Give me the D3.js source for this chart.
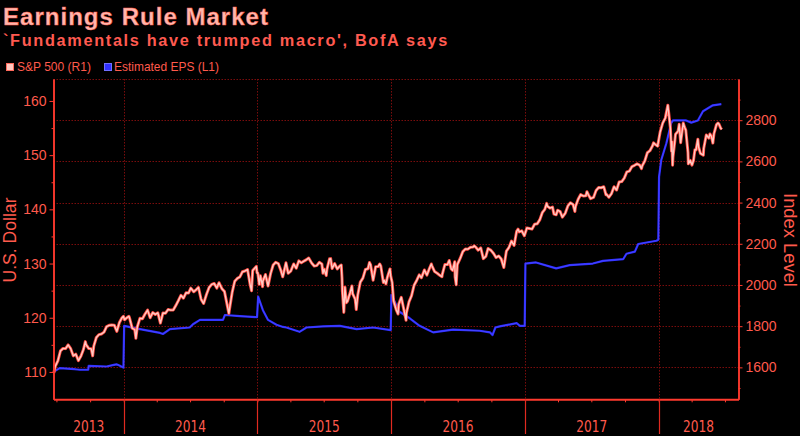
<!DOCTYPE html>
<html><head><meta charset="utf-8">
<script src="https://cdn.jsdelivr.net/npm/d3@7"></script>
<style>
html,body{margin:0;padding:0;background:#000;}
svg{display:block;}
</style></head>
<body>
<svg id="c" width="800" height="436"></svg>
<script>
const title = "Earnings Rule Market";
const subtitle = "`Fundamentals have trumped macro', BofA says";
const seriesNames = ["S&P 500 (R1)", "Estimated EPS (L1)"];
const leftTicks = [110, 120, 130, 140, 150, 160];
const leftMinor = [115, 125, 135, 145, 155];
const rightTicks = [1600, 1800, 2000, 2200, 2400, 2600, 2800];
const rightMinor = [1500, 1700, 1900, 2100, 2300, 2500, 2700, 2900];
const yearLabels = ["2013", "2014", "2015", "2016", "2017", "2018"];

// S&P 500 index level (right axis)
const sp500 = [
["2013-06-24",1573],["2013-06-28",1606],["2013-07-05",1632],["2013-07-12",1680],["2013-07-19",1692],["2013-07-26",1691],
["2013-08-02",1709],["2013-08-09",1691],["2013-08-16",1656],["2013-08-23",1664],["2013-08-30",1633],["2013-09-06",1655],
["2013-09-13",1688],["2013-09-18",1725],["2013-09-20",1710],["2013-09-27",1692],["2013-10-04",1690],["2013-10-08",1656],
["2013-10-11",1703],["2013-10-18",1745],["2013-10-25",1759],["2013-11-01",1762],["2013-11-08",1771],["2013-11-15",1798],
["2013-11-22",1804],["2013-11-29",1806],["2013-12-06",1805],["2013-12-13",1775],["2013-12-20",1818],["2013-12-27",1841],
["2013-12-31",1848],
["2014-01-03",1831],["2014-01-10",1842],["2014-01-15",1848],["2014-01-17",1838],["2014-01-24",1790],["2014-01-31",1783],
["2014-02-03",1741],["2014-02-07",1797],["2014-02-14",1838],["2014-02-21",1836],["2014-02-28",1859],["2014-03-07",1878],
["2014-03-14",1841],["2014-03-21",1866],["2014-03-28",1857],["2014-04-04",1865],["2014-04-11",1815],["2014-04-18",1864],
["2014-04-25",1863],["2014-05-02",1881],["2014-05-09",1878],["2014-05-16",1878],["2014-05-23",1900],["2014-05-30",1924],
["2014-06-06",1950],["2014-06-13",1936],["2014-06-20",1962],["2014-06-27",1961],["2014-07-03",1985],["2014-07-11",1967],
["2014-07-18",1978],["2014-07-24",1988],["2014-07-31",1931],["2014-08-07",1910],["2014-08-15",1955],["2014-08-22",1988],
["2014-08-29",2003],["2014-09-05",2007],["2014-09-12",1985],["2014-09-18",2011],["2014-09-26",1982],["2014-10-03",1968],
["2014-10-10",1906],["2014-10-15",1862],["2014-10-17",1886],["2014-10-24",1964],["2014-10-31",2018],["2014-11-07",2032],
["2014-11-14",2039],["2014-11-21",2064],["2014-11-28",2068],["2014-12-05",2075],["2014-12-12",2002],["2014-12-16",1972],
["2014-12-19",2070],["2014-12-29",2090],["2014-12-31",2059],
["2015-01-02",2058],["2015-01-06",2003],["2015-01-09",2045],["2015-01-15",1992],["2015-01-16",2019],["2015-01-23",2051],
["2015-01-30",1995],["2015-02-06",2055],["2015-02-13",2097],["2015-02-20",2110],["2015-02-27",2104],["2015-03-06",2071],
["2015-03-11",2040],["2015-03-13",2053],["2015-03-20",2108],["2015-03-26",2057],["2015-04-02",2067],["2015-04-10",2102],
["2015-04-17",2081],["2015-04-24",2117],["2015-05-01",2108],["2015-05-08",2116],["2015-05-15",2123],["2015-05-21",2131],
["2015-05-29",2107],["2015-06-05",2092],["2015-06-12",2094],["2015-06-19",2110],["2015-06-26",2102],["2015-06-29",2057],
["2015-07-02",2077],["2015-07-08",2046],["2015-07-10",2077],["2015-07-17",2127],["2015-07-20",2128],["2015-07-24",2080],
["2015-07-31",2104],["2015-08-07",2078],["2015-08-14",2092],["2015-08-18",2097],["2015-08-20",2035],["2015-08-21",1971],
["2015-08-25",1867],["2015-08-28",1989],["2015-09-01",1914],["2015-09-04",1921],["2015-09-11",1961],["2015-09-16",1995],
["2015-09-18",1958],["2015-09-25",1931],["2015-09-28",1881],["2015-10-02",1951],["2015-10-09",2014],["2015-10-16",2033],
["2015-10-23",2075],["2015-10-30",2079],["2015-11-03",2109],["2015-11-06",2099],["2015-11-13",2023],["2015-11-20",2089],
["2015-11-27",2090],["2015-12-01",2102],["2015-12-04",2092],["2015-12-11",2012],["2015-12-14",2022],["2015-12-18",2005],
["2015-12-22",2038],["2015-12-29",2078],["2015-12-31",2044],
["2016-01-04",2012],["2016-01-08",1922],["2016-01-15",1880],["2016-01-20",1859],["2016-01-22",1907],["2016-01-29",1940],
["2016-02-05",1880],["2016-02-11",1829],["2016-02-12",1865],["2016-02-19",1918],["2016-02-26",1948],["2016-03-04",1999],
["2016-03-11",2022],["2016-03-18",2049],["2016-03-24",2035],["2016-04-01",2073],["2016-04-08",2048],["2016-04-15",2081],
["2016-04-20",2102],["2016-04-22",2092],["2016-04-29",2065],["2016-05-06",2057],["2016-05-13",2047],["2016-05-19",2040],
["2016-05-20",2052],["2016-05-27",2099],["2016-06-03",2099],["2016-06-08",2119],["2016-06-13",2079],["2016-06-17",2071],
["2016-06-23",2113],["2016-06-24",2038],["2016-06-27",2001],["2016-06-30",2099],["2016-07-08",2130],["2016-07-15",2162],
["2016-07-22",2175],["2016-07-29",2174],["2016-08-05",2183],["2016-08-12",2184],["2016-08-15",2190],["2016-08-19",2184],
["2016-08-26",2169],["2016-09-02",2180],["2016-09-09",2128],["2016-09-16",2139],["2016-09-22",2177],["2016-09-30",2168],
["2016-10-07",2153],["2016-10-14",2133],["2016-10-21",2141],["2016-10-28",2126],["2016-11-04",2085],["2016-11-11",2164],
["2016-11-18",2182],["2016-11-25",2213],["2016-12-02",2192],["2016-12-09",2260],["2016-12-13",2271],["2016-12-16",2258],
["2016-12-23",2263],["2016-12-30",2239],
["2017-01-06",2277],["2017-01-13",2274],["2017-01-20",2271],["2017-01-27",2295],["2017-02-03",2297],["2017-02-10",2316],
["2017-02-17",2351],["2017-02-24",2367],["2017-03-01",2396],["2017-03-03",2383],["2017-03-10",2373],["2017-03-17",2378],
["2017-03-21",2344],["2017-03-27",2341],["2017-03-31",2363],["2017-04-07",2356],["2017-04-13",2329],["2017-04-21",2349],
["2017-04-28",2384],["2017-05-05",2399],["2017-05-12",2391],["2017-05-17",2357],["2017-05-19",2382],["2017-05-26",2416],
["2017-06-02",2439],["2017-06-09",2432],["2017-06-16",2433],["2017-06-19",2453],["2017-06-23",2438],["2017-06-29",2419],
["2017-07-07",2425],["2017-07-14",2459],["2017-07-21",2473],["2017-07-28",2472],["2017-08-04",2477],["2017-08-10",2438],
["2017-08-11",2441],["2017-08-18",2426],["2017-08-25",2443],["2017-09-01",2477],["2017-09-08",2461],["2017-09-15",2500],
["2017-09-22",2502],["2017-09-29",2519],["2017-10-06",2549],["2017-10-13",2553],["2017-10-20",2575],["2017-10-27",2581],
["2017-11-03",2588],["2017-11-10",2582],["2017-11-15",2565],["2017-11-17",2579],["2017-11-24",2602],["2017-12-01",2642],
["2017-12-08",2652],["2017-12-15",2675],["2017-12-18",2690],["2017-12-22",2683],["2017-12-29",2674],
["2018-01-05",2743],["2018-01-12",2786],["2018-01-19",2810],["2018-01-26",2873],["2018-02-02",2762],["2018-02-05",2649],
["2018-02-06",2695],["2018-02-08",2581],["2018-02-09",2620],["2018-02-14",2698],["2018-02-16",2732],["2018-02-23",2747],
["2018-02-26",2780],["2018-03-02",2691],["2018-03-09",2786],["2018-03-13",2765],["2018-03-16",2752],["2018-03-22",2644],
["2018-03-23",2588],["2018-03-28",2605],["2018-04-02",2582],["2018-04-06",2604],["2018-04-10",2657],["2018-04-13",2656],
["2018-04-18",2708],["2018-04-20",2670],["2018-04-25",2639],["2018-05-03",2630],["2018-05-04",2663],["2018-05-11",2728],
["2018-05-18",2713],["2018-05-21",2733],["2018-05-25",2721],["2018-05-29",2689],["2018-06-01",2735],["2018-06-08",2779],
["2018-06-12",2786],["2018-06-15",2780],["2018-06-19",2763],["2018-06-22",2755]
];

// Estimated EPS in U.S. dollars (left axis)
const eps = [
["2013-06-23",110.0],["2013-07-10",110.7],["2013-08-20",110.5],["2013-09-03",110.4],["2013-09-26",110.4],["2013-09-27",111.1],
["2013-11-15",111.0],["2013-12-05",111.3],["2013-12-12",111.4],["2013-12-20",111.2],["2013-12-31",110.8],
["2014-01-02",118.5],["2014-02-14",117.9],["2014-04-10",117.2],["2014-04-18",117.0],["2014-05-07",117.9],["2014-06-30",118.2],
["2014-07-09",118.8],["2014-07-28",119.6],["2014-09-29",119.6],["2014-10-04",120.5],["2014-11-14",120.3],["2014-12-31",120.1],
["2015-01-03",123.9],["2015-01-16",121.4],["2015-01-30",119.6],["2015-02-22",118.7],["2015-03-12",118.3],["2015-03-21",118.2],
["2015-04-26",117.4],["2015-05-15",118.2],["2015-06-29",118.4],["2015-08-14",118.5],["2015-09-29",117.9],["2015-11-13",118.2],
["2015-12-31",117.7],
["2016-01-02",124.2],["2016-01-24",121.1],["2016-02-21",119.9],["2016-03-19",118.5],["2016-04-25",117.3],["2016-06-18",117.8],
["2016-08-30",117.6],["2016-09-27",117.3],["2016-10-04",116.8],["2016-10-12",118.2],["2016-10-24",118.4],["2016-12-09",119.0],
["2016-12-18",118.5],["2016-12-31",118.5],
["2017-01-02",130.0],["2017-01-31",130.2],["2017-03-27",129.1],["2017-05-03",129.7],["2017-07-05",130.0],["2017-08-02",130.5],
["2017-09-26",130.8],["2017-10-05",131.8],["2017-10-28",132.2],["2017-11-06",133.6],["2017-12-26",134.2],["2017-12-31",134.4],
["2018-01-02",146.0],["2018-01-08",149.1],["2018-01-22",152.2],["2018-02-04",155.9],["2018-02-09",156.4],["2018-03-17",156.4],
["2018-03-31",156.0],["2018-04-18",156.4],["2018-05-02",158.1],["2018-05-29",159.2],["2018-06-21",159.4]
];

const parse = d3.utcParse("%Y-%m-%d");
const svg = d3.select("#c");
const W = 800, H = 436;
const L = 53.5, R = 738.5, T = 79, B = 399.3;
const RED = "#ff3a2e", TXT = "#ff5a4c", GRID = "#7a0c0c", PINK = "#ffb6ac";
const FONT = "Liberation Sans, Arial, sans-serif";

svg.append("rect").attr("width", W).attr("height", H).attr("fill", "#000");

const x = d3.scaleTime()
  .domain([parse("2013-06-23"), parse("2018-08-07")])
  .range([L, R]);
const yL = d3.scaleLinear().domain([104.95, 164.05]).range([B, T]);
const yR = d3.scaleLinear().domain([1445, 3000]).range([B, T]);

// ---- grid ----
const grid = svg.append("g").attr("stroke", GRID).attr("stroke-width", 1).attr("stroke-dasharray", "1.5,1.5");
grid.selectAll("line.h").data(rightTicks).join("line")
  .attr("x1", L).attr("x2", R)
  .attr("y1", d => Math.round(yR(d)) + 0.5).attr("y2", d => Math.round(yR(d)) + 0.5);
grid.append("line").attr("x1", L).attr("x2", R).attr("y1", T + 0.5).attr("y2", T + 0.5);
const yearStarts = yearLabels.slice(1).map(y => parse(y + "-01-01"));
grid.selectAll("line.v").data(yearStarts).join("line")
  .attr("x1", d => Math.round(x(d)) + 0.5).attr("x2", d => Math.round(x(d)) + 0.5)
  .attr("y1", T).attr("y2", B);

// ---- series ----
const lineEps = d3.line().x(d => x(parse(d[0]))).y(d => yL(d[1]));
const lineSp = d3.line().x(d => x(parse(d[0]))).y(d => yR(d[1]));

svg.append("path").datum(eps).attr("d", lineEps)
  .attr("fill", "none").attr("stroke", "#2a2aff").attr("stroke-width", 2.2).attr("stroke-linejoin", "round");
svg.append("path").datum(eps).attr("d", lineEps)
  .attr("fill", "none").attr("stroke", "#4a4aff").attr("stroke-width", 0.8).attr("stroke-linejoin", "round");

svg.append("path").datum(sp500).attr("d", lineSp)
  .attr("fill", "none").attr("stroke", "#ff4a40").attr("stroke-width", 3).attr("stroke-linejoin", "round");
svg.append("path").datum(sp500).attr("d", lineSp)
  .attr("fill", "none").attr("stroke", "#ffcbc4").attr("stroke-width", 1.4).attr("stroke-linejoin", "round");

// ---- axes ----
function styleAxis(g) {
  g.selectAll("path.domain").attr("stroke", RED).attr("stroke-width", 1.5);
  g.selectAll(".tick line").attr("stroke", RED).attr("stroke-width", 1);
  g.selectAll(".tick text").attr("fill", TXT).attr("font-family", FONT).attr("font-size", 14);
}
// left
svg.append("g").attr("transform", `translate(${L},0)`)
  .call(d3.axisLeft(yL).tickValues(leftTicks).tickSize(4).tickSizeOuter(0).tickPadding(3).tickFormat(d3.format("d")))
  .call(styleAxis);
svg.append("g").attr("transform", `translate(${L},0)`)
  .call(d3.axisLeft(yL).tickValues(leftMinor).tickSize(2).tickSizeOuter(0).tickFormat(""))
  .call(styleAxis);
// right
svg.append("g").attr("transform", `translate(${R},0)`)
  .call(d3.axisRight(yR).tickValues(rightTicks).tickSize(4).tickSizeOuter(0).tickPadding(3).tickFormat(d3.format("d")))
  .call(styleAxis);
svg.append("g").attr("transform", `translate(${R},0)`)
  .call(d3.axisRight(yR).tickValues(rightMinor).tickSize(2).tickSizeOuter(0).tickFormat(""))
  .call(styleAxis);
// bottom
const quarters = d3.utcMonth.every(3).range(x.domain()[0], x.domain()[1]);
const gB = svg.append("g").attr("transform", `translate(0,${B})`)
  .call(d3.axisBottom(x).tickValues(quarters).tickSize(3).tickSizeOuter(0).tickFormat(""))
  .call(styleAxis);
gB.select("path.domain").attr("stroke-width", 2);
// year separators
svg.append("g").selectAll("line").data(yearStarts).join("line")
  .attr("x1", d => Math.round(x(d)) + 0.5).attr("x2", d => Math.round(x(d)) + 0.5)
  .attr("y1", B).attr("y2", 434).attr("stroke", "#e02a20").attr("stroke-width", 1.2);
// year labels
const bounds = [x.domain()[0], ...yearStarts, x.domain()[1]];
svg.append("g").selectAll("text").data(yearLabels).join("text")
  .attr("x", (d, i) => (x(bounds[i]) + x(bounds[i + 1])) / 2)
  .attr("y", 431.5)
  .attr("text-anchor", "middle")
  .attr("fill", TXT)
  .attr("font-family", "Liberation Sans Narrow, DejaVu Sans Condensed, Liberation Sans, sans-serif")
  .attr("font-size", 16.5)
  .attr("textLength", 31).attr("lengthAdjust", "spacingAndGlyphs")
  .text(d => d);

// ---- texts ----
function fit(sel, w) {
  const cur = sel.node().getComputedTextLength();
  const fs = parseFloat(sel.attr("font-size"));
  sel.attr("font-size", (fs * w / cur).toFixed(2));
  return sel;
}
function fitSpacing(sel, w) {
  const cur = sel.node().getComputedTextLength();
  const n = sel.text().length;
  sel.attr("letter-spacing", ((w - cur) / n).toFixed(3));
  return sel;
}
fitSpacing(svg.append("text").attr("x", 3).attr("y", 24.5).attr("fill", PINK)
  .attr("stroke", "#ff5a4c").attr("stroke-width", 0.4)
  .attr("font-family", FONT).attr("font-weight", "bold").attr("font-size", 24).text(title), 266);
fitSpacing(svg.append("text").attr("x", 3).attr("y", 45.5).attr("fill", "#ff5a50")
  .attr("font-family", FONT).attr("font-weight", "bold").attr("font-size", 16.3).text(subtitle), 446);

// legend
const legend = svg.append("g");
legend.append("rect").attr("x", 6.5).attr("y", 63.5).attr("width", 7).attr("height", 7)
  .attr("fill", "#ffc8c0").attr("stroke", "#ff6a5c").attr("stroke-width", 1);
fit(legend.append("text").attr("x", 17).attr("y", 71).attr("fill", TXT)
  .attr("font-family", FONT).attr("font-size", 12).text(seriesNames[0]), 74);
legend.append("rect").attr("x", 104.5).attr("y", 63.5).attr("width", 7).attr("height", 7)
  .attr("fill", "#3030ff").attr("stroke", "#7070ff").attr("stroke-width", 1);
fit(legend.append("text").attr("x", 114).attr("y", 71).attr("fill", TXT)
  .attr("font-family", FONT).attr("font-size", 12).text(seriesNames[1]), 105);

// axis titles
fit(svg.append("text").attr("transform", "translate(16,240) rotate(-90)")
  .attr("text-anchor", "middle").attr("fill", TXT)
  .attr("font-family", FONT).attr("font-size", 18).text("U.S. Dollar"), 85);
fit(svg.append("text").attr("transform", "translate(784,240) rotate(90)")
  .attr("text-anchor", "middle").attr("fill", TXT)
  .attr("font-family", FONT).attr("font-size", 18).text("Index Level"), 94);
</script>
</body></html>
